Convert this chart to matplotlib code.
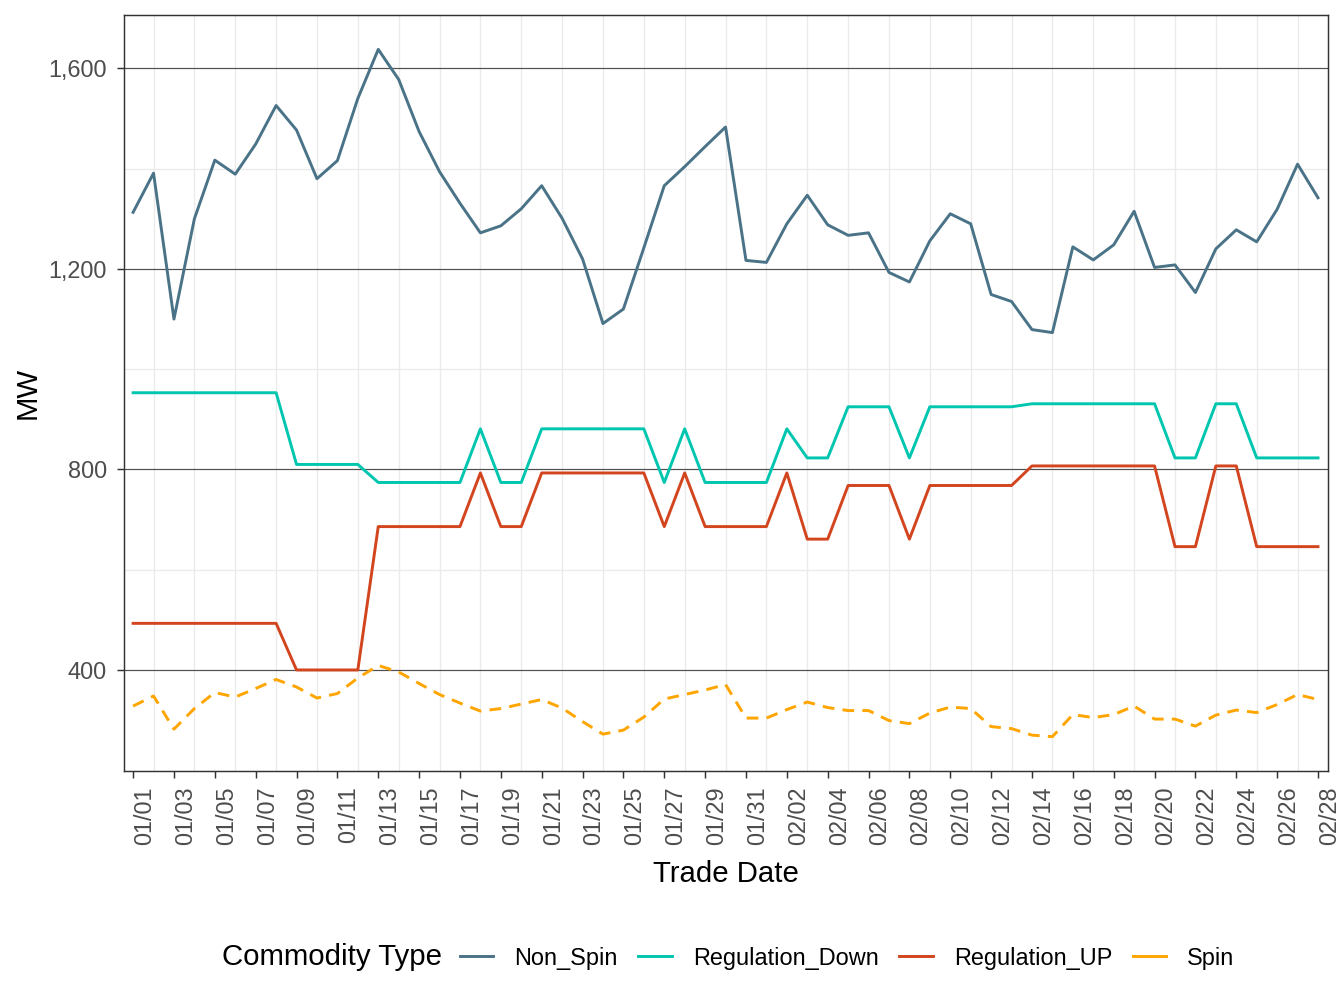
import numpy as np
import pandas as pd
import matplotlib
matplotlib.use('Agg')
import matplotlib.pyplot as plt
import matplotlib.ticker as mticker
import matplotlib.transforms as mtransforms
from matplotlib.lines import Line2D

# Daily average ancillary service procurement (MW), Jan-Feb
dates = pd.date_range('2023-01-01', '2023-02-28', freq='D')

non_spin = [1313, 1391, 1100, 1300, 1417, 1389, 1449, 1526, 1477, 1380,
            1416, 1540, 1638, 1578, 1474, 1394, 1331, 1272, 1286, 1320,
            1366, 1301, 1220, 1091, 1120, 1242, 1366, 1404, 1444, 1483,
            1217, 1213, 1290, 1347, 1288, 1267, 1272, 1193, 1174, 1256,
            1310, 1290, 1149, 1135, 1079, 1073, 1244, 1218, 1248, 1315,
            1203, 1208, 1153, 1240, 1278, 1254, 1319, 1409, 1342]

reg_down = ([953] * 8 + [810] * 4 + [774] * 5 + [881] + [774] * 2 +
            [881] * 6 + [774] + [881] + [774] * 4 + [881] + [823] * 2 +
            [925] * 3 + [823] + [925] * 5 + [931] * 7 + [823] * 2 +
            [931] * 2 + [823] * 4)

reg_up = ([493] * 8 + [400] * 4 + [686] * 5 + [793] + [686] * 2 +
          [793] * 6 + [686] + [793] + [686] * 4 + [793] + [661] * 2 +
          [768] * 3 + [661] + [768] * 5 + [807] * 7 + [646] * 2 +
          [807] * 2 + [646] * 4)

spin = [328, 348, 282, 323, 355, 346, 363, 381, 366, 344,
        353, 384, 409, 396, 373, 351, 334, 318, 323, 332,
        341, 324, 297, 272, 280, 306, 342, 351, 360, 371,
        304, 304, 321, 336, 325, 319, 319, 299, 293, 314,
        326, 323, 287, 283, 270, 267, 311, 305, 311, 328,
        302, 302, 288, 310, 320, 315, 331, 351, 341]

series_names = ['Non_Spin', 'Regulation_Down', 'Regulation_UP', 'Spin']
series_values = [non_spin, reg_down, reg_up, spin]
colors = ['#4A7388', '#00C6B0', '#D2451E', '#FFA500']

y_ticks = [400, 800, 1200, 1600]
y_minor = [600, 1000, 1400]

plt.rcParams['font.family'] = ['Liberation Sans', 'DejaVu Sans']

fig = plt.figure(figsize=(7, 5.25), dpi=192)
ax = fig.add_axes([123.5 / 1344, 1 - 771 / 1008,
                   (1328 - 123.5) / 1344, (771 - 15) / 1008])

lw = 1.1
for name, vals, col in zip(series_names, series_values, colors):
    if name == 'Spin':
        ax.plot(dates, vals, color=col, lw=lw, dashes=(4.0, 2.8), zorder=3)
    else:
        ax.plot(dates, vals, color=col, lw=lw, zorder=3)

# axis limits (ggplot-like expansion)
day = pd.Timedelta(days=1)
ax.set_xlim(dates[0] - 0.47 * day, dates[-1] + 0.49 * day)
vmin = min(min(v) for v in series_values)
vmax = max(max(v) for v in series_values)
pad = 0.05 * (vmax - vmin)
ax.set_ylim(vmin - pad, vmax + pad)

# grid lines
for y in y_minor:
    ax.axhline(y, color='#EBEBEB', lw=0.5, zorder=1)
for d in dates[1::2]:
    ax.axvline(d, color='#EBEBEB', lw=0.5, zorder=1)
for y in y_ticks:
    ax.axhline(y, color='#505050', lw=0.45, zorder=2)

ax.set_yticks(y_ticks)
ax.yaxis.set_major_formatter(mticker.FuncFormatter(lambda v, p: f'{int(v):,}'))
ax.set_xticks(dates[::2])
ax.set_xticklabels([d.strftime('%m/%d') for d in dates[::2]],
                   rotation=90, ha='left', va='top')
offset = mtransforms.ScaledTranslation(-2.5 / 192, 0, fig.dpi_scale_trans)
for lab in ax.get_xticklabels():
    lab.set_transform(lab.get_transform() + offset)

ax.tick_params(axis='both', colors='#333333', labelcolor='#4D4D4D',
               labelsize=8.8, length=2.75, width=0.55)
ax.tick_params(axis='x', pad=3)
for sp in ax.spines.values():
    sp.set_color('#333333')
    sp.set_linewidth(0.55)

ax.set_xlabel('Trade Date', fontsize=11, labelpad=5.5)
ax.set_ylabel('MW', fontsize=11, labelpad=2.4)

# legend along the bottom, title on the left
handles = [Line2D([], [], color=c, lw=lw) for c in colors]
fig.text(222 / 1344, 1 - 957 / 1008, 'Commodity Type', fontsize=11,
         ha='left', va='center')
fig.legend(handles, series_names, loc='center left', ncol=4,
           bbox_to_anchor=(460 / 1344, 1 - 958 / 1008), frameon=False,
           fontsize=8.8, handlelength=1.42, handletextpad=0.9,
           columnspacing=0.88, borderaxespad=0, borderpad=0)

fig.savefig('out.png', dpi=192)
